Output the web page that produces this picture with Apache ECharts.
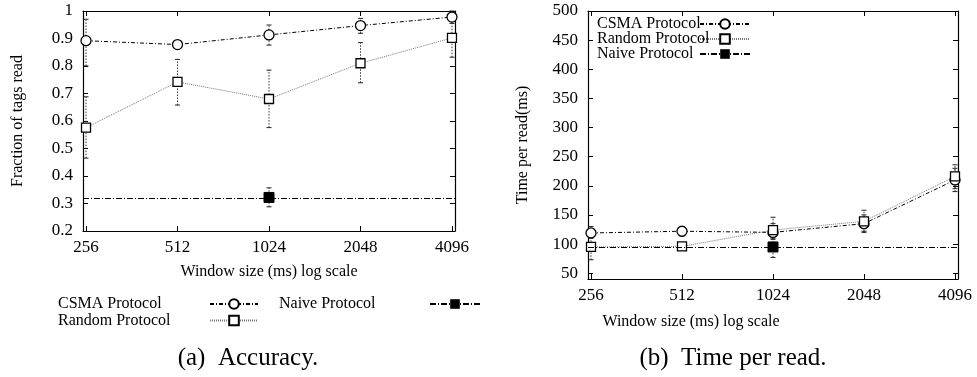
<!DOCTYPE html>
<html>
<head>
<meta charset="utf-8">
<script src="https://cdn.jsdelivr.net/npm/echarts@6/dist/echarts.min.js"></script>
<style>
  html, body { margin: 0; padding: 0; background: #fff; }
  #chart { width: 977px; height: 377px; }
</style>
</head>
<body>
<div id="chart"></div>
<script>
// Window sizes (ms) on the shared log-scale x axis
const windowSizes = [256, 512, 1024, 2048, 4096];
const tickLabels = ['256', '512', '1024', '2048', '4096'];

// (a) Accuracy: fraction of tags read, mean with error-bar bounds
const csmaAcc      = [0.892, 0.878, 0.913, 0.947, 0.978];
const csmaAccLow   = [0.800, 0.872, 0.876, 0.919, 0.955];
const csmaAccHigh  = [0.970, 0.884, 0.949, 0.973, 1.000];
const randomAcc     = [0.576, 0.742, 0.680, 0.810, 0.902];
const randomAccLow  = [0.465, 0.658, 0.576, 0.739, 0.832];
const randomAccHigh = [0.688, 0.824, 0.785, 0.885, 0.968];
const naiveWindow = 1024;
const naiveAcc = 0.322, naiveAccLow = 0.288, naiveAccHigh = 0.357;

// (b) Time per read (ms), mean with error-bar bounds
const csmaTime      = [119, 122, 120, 135, 210];
const csmaTimeLow   = [110, 114, 108, 120, 190];
const csmaTimeHigh  = [130, 130, 135, 150, 230];
const randomTime     = [95, 96, 124, 139, 216];
const randomTimeLow  = [73, 90, 110, 122, 195];
const randomTimeHigh = [117, 102, 146, 158, 236];
const naiveTime = 95, naiveTimeLow = 77, naiveTimeHigh = 113;

const accTicks = [0.2, 0.3, 0.4, 0.5, 0.6, 0.7, 0.8, 0.9, 1];
const timeTicks = [50, 100, 150, 200, 250, 300, 350, 400, 450, 500];

const FONT = 'Liberation Serif';
const lx = windowSizes.map(Math.log2);
const pad = 0.033;

const styles = {
  csma:   { line: { color: '#000', width: 1, type: [4, 2, 1, 2] }, symbol: 'circle' },
  random: { line: { color: '#777', width: 1, type: [1, 1] }, symbol: 'rect' },
  naive:  { line: { color: '#000', width: 1, type: [6, 2, 1, 2] }, symbol: 'rect' }
};

function pts(ys) { return ys.map((y, i) => [lx[i], y]); }
function bars(lo, hi) { return lo.map((l, i) => [lx[i], l, hi[i]]); }

function errorBar(params, api) {
  const x = api.value(0);
  const a = api.coord([x, api.value(1)]);
  const b = api.coord([x, api.value(2)]);
  const c = 2.5;
  const solid = { stroke: '#222', lineWidth: 1 };
  return {
    type: 'group',
    children: [
      { type: 'line', shape: { x1: a[0], y1: a[1], x2: b[0], y2: b[1] },
        style: { stroke: '#333', lineWidth: 1, lineDash: [1.5, 1.5] } },
      { type: 'line', shape: { x1: a[0] - c, y1: a[1], x2: a[0] + c, y2: a[1] }, style: solid },
      { type: 'line', shape: { x1: b[0] - c, y1: b[1], x2: b[0] + c, y2: b[1] }, style: solid }
    ]
  };
}

function axesFor(gi, yMin, yMax, yTicks, yFmt) {
  const common = {
    gridIndex: gi, type: 'value', min: 8 - pad, max: 12 + pad,
    axisLine: { show: true, onZero: false, lineStyle: { color: '#000', width: 1.2 } },
    axisTick: { show: true, inside: true, length: 5, customValues: lx, lineStyle: { color: '#000' } },
    splitLine: { show: false }
  };
  const x = [
    Object.assign({}, common, {
      position: 'bottom',
      axisLabel: { customValues: lx, margin: 8, color: '#000', fontFamily: FONT, fontSize: 17,
        formatter: v => tickLabels[lx.indexOf(v)] }
    }),
    Object.assign({}, common, { position: 'top', axisLabel: { show: false } })
  ];
  const ycommon = {
    gridIndex: gi, type: 'value', min: yMin, max: yMax,
    axisLine: { show: true, onZero: false, lineStyle: { color: '#000', width: 1.2 } },
    axisTick: { show: true, inside: true, length: 5, customValues: yTicks, lineStyle: { color: '#000' } },
    splitLine: { show: false }
  };
  const y = [
    Object.assign({}, ycommon, {
      position: 'left',
      axisLabel: { customValues: yTicks, margin: 10, color: '#000', fontFamily: FONT, fontSize: 17, formatter: yFmt }
    }),
    Object.assign({}, ycommon, { position: 'right', axisLabel: { show: false } })
  ];
  return { x, y };
}

function seriesFor(xi, yi, mean, lo, hi, key, name) {
  const st = styles[key];
  return [
    { type: 'custom', name: name + ' err', xAxisIndex: xi, yAxisIndex: yi, renderItem: errorBar,
      data: bars(lo, hi), encode: { x: 0, y: [1, 2] }, z: 1, silent: true },
    { type: 'line', name, xAxisIndex: xi, yAxisIndex: yi, data: pts(mean),
      symbol: st.symbol, symbolSize: key === 'csma' ? 10 : 9,
      lineStyle: st.line,
      itemStyle: { color: '#fff', borderColor: '#000', borderWidth: 1.3 },
      z: 3, animation: false }
  ];
}

function naiveSeries(xi, yi, v, lo, hi) {
  const x = Math.log2(naiveWindow);
  return [
    { type: 'custom', name: 'Naive err', xAxisIndex: xi, yAxisIndex: yi, renderItem: errorBar,
      data: [[x, lo, hi]], encode: { x: 0, y: [1, 2] }, z: 1, silent: true },
    { type: 'line', name: 'Naive Protocol', xAxisIndex: xi, yAxisIndex: yi, data: [[x, v]],
      symbol: 'rect', symbolSize: 10, lineStyle: styles.naive.line,
      itemStyle: { color: '#000', borderColor: '#000' }, z: 3, animation: false,
      markLine: { silent: true, symbol: 'none', label: { show: false },
        lineStyle: styles.naive.line, data: [{ yAxis: v }], animation: false } }
  ];
}

const nameStyle = { color: '#000', fontFamily: FONT, fontSize: 16 };
const a = axesFor(0, 0.2, 1, accTicks, v => String(+v.toFixed(1)));
const b = axesFor(1, 40, 500, timeTicks, v => String(v));
Object.assign(a.x[0], { name: 'Window size (ms) log scale', nameLocation: 'middle', nameGap: 33, nameTextStyle: nameStyle });
Object.assign(a.y[0], { name: 'Fraction of tags read', nameLocation: 'middle', nameGap: 57, nameTextStyle: nameStyle });
Object.assign(b.y[0], { name: 'Time per read(ms)', nameLocation: 'middle', nameGap: 57, nameTextStyle: nameStyle });

const legendText = w => ({
  color: '#000', fontFamily: FONT, fontSize: 16,
  rich: { t: { width: w, lineHeight: 14, align: 'left', color: '#000', fontFamily: FONT, fontSize: 16 } }
});
const legendBase = { orient: 'vertical', align: 'right', padding: 0, itemHeight: 12,
  selectedMode: false, formatter: '{t|{name}}' };

const option = {
  animation: false,
  backgroundColor: '#fff',
  grid: [
    { left: 83, top: 11, width: 372, height: 220 },
    { left: 588, top: 11, width: 370, height: 268 }
  ],
  xAxis: [...a.x, ...b.x],
  yAxis: [...a.y, ...b.y],
  legend: [
    Object.assign({}, legendBase, { data: ['CSMA Protocol', 'Random Protocol'], left: 58, top: 296,
      itemWidth: 48, itemGap: 0.5, textStyle: legendText(147) }),
    Object.assign({}, legendBase, { data: ['Naive Protocol'], left: 279, top: 296,
      itemWidth: 50, textStyle: legendText(146) }),
    Object.assign({}, legendBase, { data: ['CSMA Protocol', 'Random Protocol', 'Naive Protocol'],
      left: 597, top: 16, itemWidth: 50, itemGap: -1, textStyle: legendText(98) })
  ],
  graphic: [
    { type: 'text', x: 691, y: 322, style: { text: 'Window size (ms) log scale', fill: '#000',
      font: '16px "' + FONT + '"', textAlign: 'center', textVerticalAlign: 'middle' } },
    { type: 'text', x: 248, y: 358, style: { text: '(a)  Accuracy.', fill: '#000',
      font: '25px "' + FONT + '"', textAlign: 'center', textVerticalAlign: 'middle' } },
    { type: 'text', x: 733, y: 358, style: { text: '(b)  Time per read.', fill: '#000',
      font: '25px "' + FONT + '"', textAlign: 'center', textVerticalAlign: 'middle' } }
  ],
  series: [
    ...seriesFor(0, 0, csmaAcc, csmaAccLow, csmaAccHigh, 'csma', 'CSMA Protocol'),
    ...seriesFor(0, 0, randomAcc, randomAccLow, randomAccHigh, 'random', 'Random Protocol'),
    ...naiveSeries(0, 0, naiveAcc, naiveAccLow, naiveAccHigh),
    ...seriesFor(2, 2, csmaTime, csmaTimeLow, csmaTimeHigh, 'csma', 'CSMA Protocol'),
    ...seriesFor(2, 2, randomTime, randomTimeLow, randomTimeHigh, 'random', 'Random Protocol'),
    ...naiveSeries(2, 2, naiveTime, naiveTimeLow, naiveTimeHigh)
  ]
};

const chart = echarts.init(document.getElementById('chart'), null, { renderer: 'canvas' });
chart.setOption(option);
</script>
</body>
</html>
